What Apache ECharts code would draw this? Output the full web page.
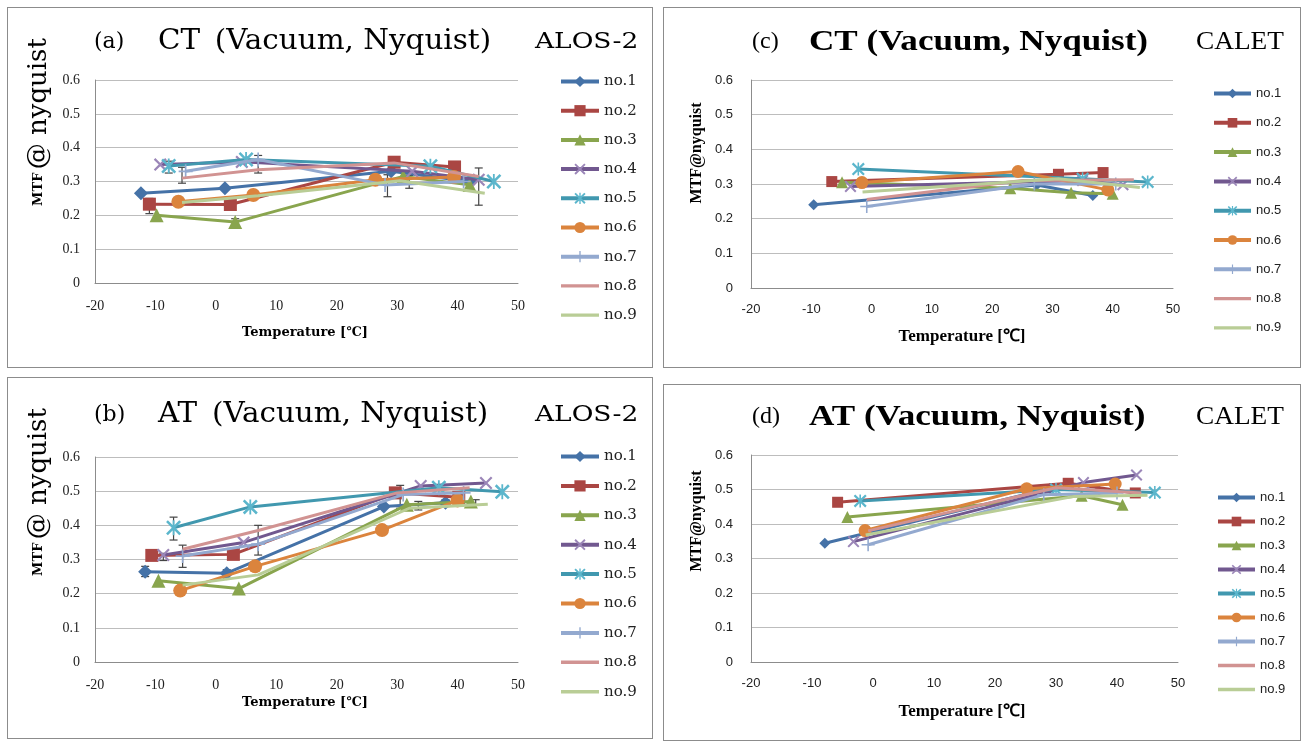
<!DOCTYPE html>
<html><head><meta charset="utf-8">
<script src="https://cdn.jsdelivr.net/npm/echarts@6/dist/echarts.min.js"></script>
<style>
html,body{margin:0;padding:0;background:#fff}
body{width:1304px;height:743px;position:relative;overflow:hidden}
.p{position:absolute;box-sizing:border-box;border:1.5px solid #8c8c8c;background:#fff}
</style></head><body>
<div id="pa" class="p" style="left:7px;top:7px;width:646px;height:361px"></div>
<div id="pb" class="p" style="left:7px;top:377px;width:646px;height:362px"></div>
<div id="pc" class="p" style="left:663px;top:7px;width:638px;height:361px"></div>
<div id="pd" class="p" style="left:663px;top:384px;width:638px;height:357px"></div>
<script>
// ---------- data ----------
const seriesNames = ['no.1','no.2','no.3','no.4','no.5','no.6','no.7','no.8','no.9'];
const xTicks = [-20,-10,0,10,20,30,40,50];
const yTicks = [0,0.1,0.2,0.3,0.4,0.5,0.6];

// (a) CT ALOS-2 : [temperature, MTF]
const ctAlos1 = [[-12.4,0.265],[1.5,0.28],[29,0.33],[42,0.30]];
const ctAlos2 = [[-11,0.233],[2.4,0.232],[29.5,0.357],[39.5,0.343]];
const ctAlos3 = [[-9.8,0.20],[3.2,0.18],[31,0.315],[42,0.29]];
const ctAlos4 = [[-9.2,0.35],[4.3,0.358],[32.5,0.33],[43.5,0.305]];
const ctAlos5 = [[-7.8,0.346],[5,0.365],[35.5,0.345],[46,0.30]];
const ctAlos6 = [[-6.2,0.24],[6.2,0.26],[26.4,0.305],[39.4,0.313]];
const ctAlos7 = [[-5,0.33],[7,0.365],[28,0.29],[41,0.30]];
const ctAlos8 = [[-5.6,0.31],[7,0.335],[29.5,0.355],[43.5,0.315]];
const ctAlos9 = [[-5.6,0.238],[7,0.258],[30.5,0.302],[44.5,0.265]];
// error bars (a): [temperature, low, high]
const ctAlosErr = [[-11,0.205,0.25],[-7.8,0.325,0.36],[-5.6,0.295,0.342],[3.2,0.17,0.19],[6.2,0.25,0.27],
                   [7,0.325,0.377],[28.4,0.255,0.32],[32,0.28,0.318],[43.5,0.23,0.34]];

// (b) AT ALOS-2
const atAlos1 = [[-11.7,0.264],[1.8,0.26],[27.8,0.455],[38,0.466]];
const atAlos2 = [[-10.6,0.312],[2.9,0.315],[29.7,0.495],[40.2,0.482]];
const atAlos3 = [[-9.5,0.238],[3.8,0.215],[31.6,0.46],[42.2,0.47]];
const atAlos4 = [[-8.7,0.313],[4.6,0.35],[33.9,0.515],[44.7,0.524]];
const atAlos5 = [[-7,0.393],[5.7,0.454],[36.9,0.51],[47.4,0.498]];
const atAlos6 = [[-5.9,0.209],[6.5,0.28],[27.5,0.386],[40,0.473]];
const atAlos7 = [[-5.5,0.31],[7,0.345],[31,0.49],[41,0.495]];
const atAlos8 = [[-5.5,0.33],[7,0.385],[30,0.495],[42,0.51]];
const atAlos9 = [[-5.5,0.225],[7,0.255],[32,0.45],[45,0.462]];
const atAlosErr = [[-11.7,0.25,0.28],[-8.7,0.297,0.318],[-7,0.357,0.424],[-5.5,0.277,0.342],[1.8,0.245,0.27],
                   [7,0.313,0.40],[30.5,0.45,0.517],[33.5,0.445,0.47],[38,0.455,0.475],[43,0.46,0.475]];

// (c) CT CALET
const ctCalet1 = [[-9.6,0.24],[27.4,0.297],[36.7,0.267]];
const ctCalet2 = [[-6.6,0.307],[31,0.328],[38.4,0.333]];
const ctCalet3 = [[-4.9,0.305],[23,0.288],[33.1,0.275],[40,0.272]];
const ctCalet4 = [[-3.5,0.293],[35,0.31],[41.7,0.298]];
const ctCalet5 = [[-2.2,0.343],[35,0.315],[45.8,0.306]];
const ctCalet6 = [[-1.6,0.304],[24.3,0.336],[39.2,0.283]];
const ctCalet7 = [[-0.8,0.235],[27,0.30],[40.5,0.30]];
const ctCalet8 = [[-0.8,0.255],[25,0.31],[43.5,0.312]];
const ctCalet9 = [[-1.5,0.277],[31,0.315],[44.5,0.29]];

// (d) AT CALET
const atCalet1 = [[-7.9,0.344],[29,0.503],[37,0.497]];
const atCalet2 = [[-5.8,0.463],[32,0.518],[43,0.49]];
const atCalet3 = [[-4.2,0.42],[34.2,0.482],[40.9,0.456]];
const atCalet4 = [[-3.2,0.349],[34.5,0.52],[43.2,0.542]];
const atCalet5 = [[-2.1,0.467],[30,0.50],[46.2,0.491]];
const atCalet6 = [[-1.3,0.381],[25.2,0.502],[39.7,0.516]];
const atCalet7 = [[-0.8,0.34],[28,0.485],[40,0.49]];
const atCalet8 = [[-0.8,0.38],[30,0.505],[44,0.49]];
const atCalet9 = [[-1.2,0.368],[33,0.48],[45,0.483]];

// ---------- styles ----------
const colors = ['#4572A7','#AA4643','#89A54E','#71588F','#4198AF','#DB843D','#93A9CF','#D19392','#B9CD96'];
const SYM_X = 'path://M0,1.2L1.2,0L5,3.8L8.8,0L10,1.2L6.2,5L10,8.8L8.8,10L5,6.2L1.2,10L0,8.8L3.8,5Z';
const SYM_AST = 'path://M0,1.2L1.2,0L5,3.8L8.8,0L10,1.2L6.2,5L10,8.8L8.8,10L5,6.2L1.2,10L0,8.8L3.8,5Z M4.4,0L5.6,0L5.6,10L4.4,10Z';
const SYM_PLUS = 'path://M4.4,0L5.6,0L5.6,4.4L10,4.4L10,5.6L5.6,5.6L5.6,10L4.4,10L4.4,5.6L0,5.6L0,4.4L4.4,4.4Z';
const symbols = ['diamond','rect','triangle',SYM_X,SYM_AST,'circle',SYM_PLUS,'none','none'];
const symColors = ['#4572A7','#AA4643','#89A54E','#9b86b8','#5bb6cc','#DB843D','#93A9CF','#D19392','#B9CD96'];

function legendItems(h){
  // plain-line icon for series without markers
  const bar = 'path://M0,0L0.01,0L0.01,0.01Z M0,'+h+'L0.01,'+h+'L0.01,'+(h-0.01)+'Z M0,'+(h/2-1.8)+'L40,'+(h/2-1.8)+'L40,'+(h/2+1.8)+'L0,'+(h/2+1.8)+'Z';
  return seriesNames.map((n,i)=> symbols[i]==='none' ? {name:n, icon:bar, itemStyle:{color:colors[i]}} : {name:n});
}

function build(cfg){
  const series = cfg.data.map((d,i)=>({
    name: seriesNames[i], type:'line', data:d,
    symbol: symbols[i], symbolSize: cfg.symSize[i],
    lineStyle:{color:colors[i], width:cfg.lw},
    itemStyle:{color:symColors[i]},
    z: 2+i, animation:false
  }));
  if (cfg.err){
    series.push({
      type:'custom', name:'err', data:cfg.err, z:1, silent:true, animation:false,
      renderItem:(params, api)=>{
        const x=api.value(0), lo=api.value(1), hi=api.value(2);
        const p1=api.coord([x,lo]), p2=api.coord([x,hi]);
        const st={stroke:'#444', lineWidth:1.2};
        return {type:'group', children:[
          {type:'line', shape:{x1:p1[0],y1:p1[1],x2:p2[0],y2:p2[1]}, style:st},
          {type:'line', shape:{x1:p1[0]-4,y1:p1[1],x2:p1[0]+4,y2:p1[1]}, style:st},
          {type:'line', shape:{x1:p2[0]-4,y1:p2[1],x2:p2[0]+4,y2:p2[1]}, style:st}
        ]};
      }
    });
  }
  return {
    backgroundColor:'#fff', animation:false,
    grid:Object.assign({outerBoundsMode:'none', containLabel:false}, cfg.grid),
    xAxis:{type:'value', min:xTicks[0], max:xTicks[xTicks.length-1], interval:10,
      axisLine:{show:true, onZero:false, lineStyle:{color:'#8c8c8c', width:1}},
      axisTick:{show:false}, splitLine:{show:false},
      axisLabel:{margin:cfg.xMargin, color:'#222', fontFamily:cfg.tickFont, fontSize:cfg.tickSize}},
    yAxis:{type:'value', min:yTicks[0], max:yTicks[yTicks.length-1], interval:0.1,
      axisLine:{show:true, onZero:false, lineStyle:{color:'#8c8c8c', width:1}},
      axisTick:{show:false},
      splitLine:{show:true, lineStyle:{color:'#bdbdbd', width:1}},
      axisLabel:{margin:cfg.yMargin, color:'#222', fontFamily:cfg.tickFont, fontSize:cfg.tickSize,
        formatter:v=>String(Math.round(v*10)/10)}},
    legend:{orient:'vertical', left:cfg.legend.left, top:cfg.legend.top, itemGap:cfg.legend.gap,
      itemWidth:cfg.legend.w, itemHeight:cfg.legend.h, data:legendItems(cfg.legend.h),
      lineStyle:{width:cfg.legend.lw},
      textStyle:{fontFamily:cfg.legend.font, fontSize:cfg.legend.size, color:'#222'}},
    graphic:cfg.graphic,
    series
  };
}

const SERIF_A = '"DejaVu Serif", serif';
const SERIF_C = '"Liberation Serif", "Times New Roman", serif';

function titlesAB(letter, kind, sat, ty){
  return [
    {type:'text', x:86, y:ty, style:{text:'('+letter+')', font:'22px '+SERIF_A, fill:'#000', textVerticalAlign:'middle'}},
    {type:'text', x:150, y:ty, scaleX:1.05, style:{text:kind+'\u2002(Vacuum, Nyquist)', font:'28px '+SERIF_A, fill:'#000', textVerticalAlign:'middle'}},
    {type:'text', x:527, y:ty, scaleX:1.15, style:{text:sat, font:'23px '+SERIF_A, fill:'#000', textVerticalAlign:'middle'}},
    {type:'text', x:297, y:325, style:{text:'Temperature [\u2103]', font:'bold 13px '+SERIF_A, fill:'#000', textAlign:'center', textVerticalAlign:'middle'}},
    {type:'text', x:31, y:114, rotation:Math.PI/2, style:{text:'{a|MTF} {b|@ nyquist}', textAlign:'center', textVerticalAlign:'middle',
      rich:{a:{font:'bold 13px '+SERIF_A, fill:'#000'}, b:{font:'26px '+SERIF_A, fill:'#000'}}}}
  ];
}
function titlesCD(letter, kind, sat, ty, xty, yty){
  return [
    {type:'text', x:88, y:ty, style:{text:'('+letter+')', font:'24px '+SERIF_C, fill:'#000', textVerticalAlign:'middle'}},
    {type:'text', x:145, y:ty, scaleX:1.17, style:{text:kind+' (Vacuum, Nyquist)', font:'bold 30px '+SERIF_C, fill:'#000', textVerticalAlign:'middle'}},
    {type:'text', x:532, y:ty, scaleX:1.05, style:{text:sat, font:'26px '+SERIF_C, fill:'#000', textVerticalAlign:'middle'}},
    {type:'text', x:298, y:xty, style:{text:'Temperature [\u2103]', font:'bold 17px '+SERIF_C, fill:'#000', textAlign:'center', textVerticalAlign:'middle'}},
    {type:'text', x:33, y:yty, rotation:Math.PI/2, style:{text:'MTF@nyquist', font:'bold 16px '+SERIF_C, fill:'#000', textAlign:'center', textVerticalAlign:'middle'}}
  ];
}

const symAB = [14,13,14,13,15,14,14,0,0];
const symCD = [11,11,12,12,13,13,13,0,0];

const cfgA = {
  data:[ctAlos1,ctAlos2,ctAlos3,ctAlos4,ctAlos5,ctAlos6,ctAlos7,ctAlos8,ctAlos9], err:ctAlosErr,
  grid:{left:87, top:72, width:423, height:203}, lw:3, symSize:symAB,
  xMargin:16, yMargin:15, tickFont:'"Liberation Serif", serif', tickSize:14,
  legend:{left:546, top:61, gap:14.2, w:38, h:14, lw:4, font:SERIF_A, size:15},
  graphic:titlesAB('a','CT','ALOS-2',34)
};
const cfgB = {
  data:[atAlos1,atAlos2,atAlos3,atAlos4,atAlos5,atAlos6,atAlos7,atAlos8,atAlos9], err:atAlosErr,
  grid:{left:87, top:79, width:423, height:205}, lw:3, symSize:symAB,
  xMargin:16, yMargin:15, tickFont:'"Liberation Serif", serif', tickSize:14,
  legend:{left:546, top:66, gap:14.4, w:38, h:14, lw:4, font:SERIF_A, size:15},
  graphic:titlesAB('b','AT','ALOS-2',37)
};
const cfgC = {
  data:[ctCalet1,ctCalet2,ctCalet3,ctCalet4,ctCalet5,ctCalet6,ctCalet7,ctCalet8,ctCalet9],
  grid:{left:87, top:72, width:422, height:208}, lw:3, symSize:symCD,
  xMargin:15, yMargin:18, tickFont:'"Liberation Sans", Arial, sans-serif', tickSize:13,
  legend:{left:543, top:74, gap:16.3, w:37, h:12, lw:4, font:'"Liberation Sans", Arial, sans-serif', size:13},
  graphic:titlesCD('c','CT','CALET',34,329,145)
};
const cfgD = {
  data:[atCalet1,atCalet2,atCalet3,atCalet4,atCalet5,atCalet6,atCalet7,atCalet8,atCalet9],
  grid:{left:87, top:70, width:427, height:207}, lw:3, symSize:symCD,
  xMargin:15, yMargin:18, tickFont:'"Liberation Sans", Arial, sans-serif', tickSize:13,
  legend:{left:547, top:101, gap:11, w:37, h:12, lw:4, font:'"Liberation Sans", Arial, sans-serif', size:13},
  graphic:titlesCD('d','AT','CALET',32,327,136)
};

[['pa',cfgA],['pb',cfgB],['pc',cfgC],['pd',cfgD]].forEach(([id,cfg])=>{
  const ch = echarts.init(document.getElementById(id), null, {renderer:'canvas'});
  ch.setOption(build(cfg));
});
</script>
</body></html>
